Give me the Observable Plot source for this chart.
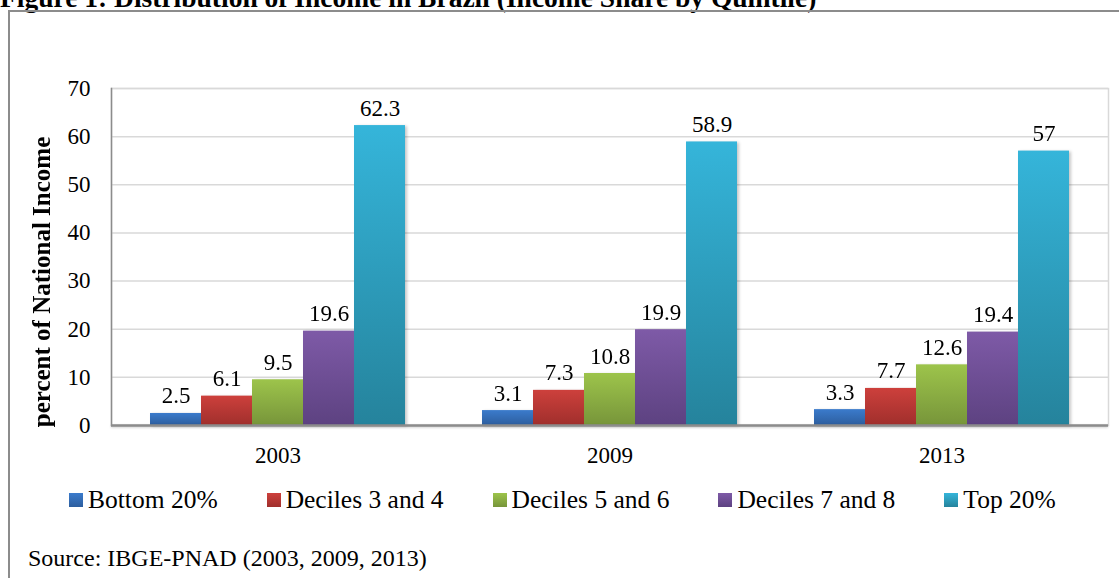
<!DOCTYPE html>
<html>
<head>
<meta charset="utf-8">
<script src="https://cdn.jsdelivr.net/npm/d3@7"></script>
<script src="https://cdn.jsdelivr.net/npm/@observablehq/plot@0.6"></script>
<style>
  body { margin: 0; background: #fff; }
  #page { position: relative; width: 1119px; height: 578px; overflow: hidden; background: #fff;
          font-family: "Liberation Serif", "Times New Roman", serif; color: #000; }
  #title { position: absolute; left: 0; top: -16px; font: bold 27.5px/1 "Liberation Serif", serif; white-space: nowrap; }
  #box { position: absolute; left: 8px; top: 10px; width: 1300px; height: 800px;
         border-left: 2px solid #8c8c8c; border-top: 2px solid #8c8c8c; }
  .layer { position: absolute; left: 0; top: 0; }
  #ytitle { position: absolute; left: 41px; top: 282px; transform: translate(-50%, -50%) rotate(-90deg);
            font: bold 25px/1 "Liberation Serif", serif; white-space: nowrap; }
  #legend { position: absolute; left: 69px; top: 487px; display: flex; align-items: center;
            font: 25.5px/1 "Liberation Serif", serif; white-space: nowrap; }
  #legend .item { display: flex; align-items: center; margin-right: 49px; }
  #legend .sw { width: 14px; height: 14px; margin-right: 5px; }
  #source { position: absolute; left: 28px; top: 546px; font: 24px/1 "Liberation Serif", serif; white-space: nowrap; }
</style>
</head>
<body>
<div id="page">
  <div id="title">Figure 1: Distribution of Income in Brazil (Income Share by Quintile)</div>
  <div id="box"></div>
  <div id="back" class="layer"></div>
  <div id="mid" class="layer"></div>
  <div id="front" class="layer"></div>
  <div id="ytitle">percent of National Income</div>
  <div id="legend"></div>
  <div id="source">Source: IBGE-PNAD (2003, 2009, 2013)</div>
</div>
<script>
// ---- data ----
const years = ["2003", "2009", "2013"];
const seriesNames = ["Bottom 20%", "Deciles 3 and 4", "Deciles 5 and 6", "Deciles 7 and 8", "Top 20%"];
const bottom20 = [2.5, 3.1, 3.3];
const deciles34 = [6.1, 7.3, 7.7];
const deciles56 = [9.5, 10.8, 12.6];
const deciles78 = [19.6, 19.9, 19.4];
const top20 = [62.3, 58.9, 57];
const yTicks = [0, 10, 20, 30, 40, 50, 60, 70];

// ---- styles ----
const gradTop = ["#3b7bcc", "#cd403c", "#9dc44b", "#7e5aa7", "#35b5da"];
const gradBottom = ["#2d5e9e", "#a02f2c", "#77953a", "#5d4281", "#25839c"];

const seriesValues = [bottom20, deciles34, deciles56, deciles78, top20];
const rows = [];
years.forEach((year, yi) => {
  seriesNames.forEach((s, si) => {
    rows.push({year, series: s, si, value: seriesValues[si][yi]});
  });
});

const font = '"Liberation Serif", "Times New Roman", serif';
const base = {
  width: 1119,
  height: 475,
  marginLeft: 111,
  marginRight: 11,
  marginTop: 88,
  marginBottom: 50,
  style: {fontFamily: font, fontSize: "23px", color: "#000", background: "transparent", overflow: "visible"},
  y: {domain: [0, 70], axis: null}
};

// background: gridlines, plot-area border, y axis labels
const back = Plot.plot({
  ...base,
  x: {domain: years, axis: null},
  marks: [
    Plot.ruleY(yTicks.filter(d => d > 0), {stroke: "#d9d9d9", strokeWidth: 1.5}),
    Plot.frame({stroke: "#d9d9d9", strokeWidth: 1.5}),
    Plot.axisY(yTicks, {anchor: "left", tickSize: 0, tickPadding: 21, label: null, fontSize: 23})
  ]
});

// middle: grouped bars (faceted by year), value labels, year axis
const mid = Plot.plot({
  ...base,
  fx: {domain: years, paddingInner: 0.227, paddingOuter: 0.1135, axis: "bottom", label: null, tickSize: 0, tickPadding: 21},
  x: {domain: seriesNames, padding: 0, axis: null},
  color: {type: "identity"},
  marks: [
    Plot.barY(rows, {fx: "year", x: "series", y: "value", fill: d => `url(#grad${d.si})`}),
    Plot.text(rows, {fx: "year", x: "series", y: "value", text: d => String(d.value),
                     lineAnchor: "bottom", dy: -10, fontSize: 23, fill: "#000"})
  ]
});

// front: axis lines
const front = Plot.plot({
  ...base,
  x: {domain: years, axis: null},
  marks: [
    Plot.ruleY([0], {stroke: "#8c8c8c", strokeWidth: 2.5}),
    Plot.frame({anchor: "left", stroke: "#8c8c8c", strokeWidth: 1.5})
  ]
});

// gradients + shadow
const svg = d3.select(mid);
const defs = svg.insert("defs", ":first-child");
gradTop.forEach((c, i) => {
  const g = defs.append("linearGradient").attr("id", `grad${i}`).attr("x1", 0).attr("y1", 0).attr("x2", 0).attr("y2", 1);
  g.append("stop").attr("offset", "0%").attr("stop-color", c);
  g.append("stop").attr("offset", "100%").attr("stop-color", gradBottom[i]);
});
svg.selectAll('g[aria-label="bar"]').style("filter", "drop-shadow(2px 1px 1.5px rgba(0,0,0,0.22))");
d3.select(front).selectAll('g[aria-label="rule"]').style("filter", "drop-shadow(0px 1.5px 1px rgba(0,0,0,0.18))");

document.getElementById("back").appendChild(back);
document.getElementById("mid").appendChild(mid);
document.getElementById("front").appendChild(front);

// legend
const legend = d3.select("#legend");
seriesNames.forEach((s, i) => {
  const it = legend.append("div").attr("class", "item");
  it.append("div").attr("class", "sw").style("background", `linear-gradient(${gradTop[i]}, ${gradBottom[i]})`);
  it.append("span").text(s);
});
</script>
</body>
</html>
